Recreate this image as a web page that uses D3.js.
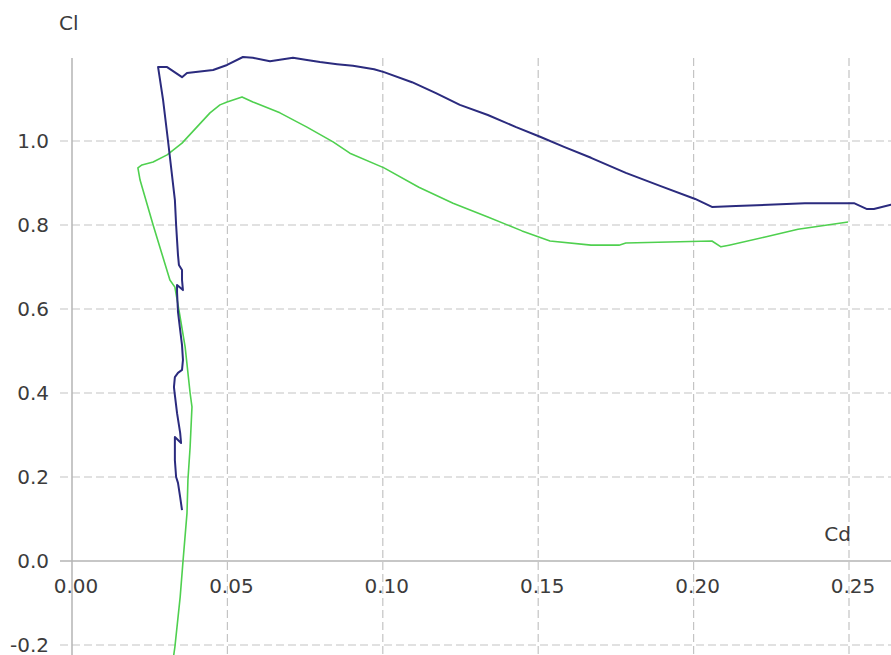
<!DOCTYPE html>
<html>
<head>
<meta charset="utf-8">
<script src="https://cdn.jsdelivr.net/npm/d3@7"></script>
<style>
  html, body { margin: 0; padding: 0; background: #ffffff; }
  svg { display: block; }
  .tick text { font-family: "DejaVu Sans", Verdana, sans-serif; font-size: 20px; fill: #3c3c3c; }
</style>
</head>
<body>
<svg id="chart" width="891" height="655"></svg>
<script>
// Axis ticks
const cdTicks = [0.00, 0.05, 0.10, 0.15, 0.20, 0.25];
const clTicks = [-0.2, 0.0, 0.2, 0.4, 0.6, 0.8, 1.0];

// Polar 1 (navy): drag coefficient and lift coefficient, ordered by incidence
const navyCd = [0.0354, 0.0348, 0.0341, 0.0335, 0.0331, 0.0331, 0.0331, 0.0351, 0.0348, 0.0338,
  0.0331, 0.0328, 0.0331, 0.0341, 0.0354, 0.0357, 0.0354, 0.0348, 0.0341, 0.0338,
  0.0338, 0.0357, 0.0354, 0.0354, 0.0344, 0.0341, 0.0338, 0.0335, 0.0331, 0.0309,
  0.0293, 0.0277, 0.0306, 0.0354, 0.0370, 0.0454, 0.0499, 0.0550, 0.0582, 0.0637,
  0.0711, 0.0756, 0.0798, 0.0853, 0.0904, 0.0972, 0.1004, 0.1094, 0.1171, 0.1248,
  0.1338, 0.1429, 0.1506, 0.1583, 0.1670, 0.1782, 0.1892, 0.2005, 0.2059, 0.2136,
  0.2358, 0.2516, 0.2558, 0.2580, 0.2635, 0.2680];
const navyCl = [0.121, 0.152, 0.186, 0.200, 0.240, 0.276, 0.295, 0.281, 0.305, 0.352,
  0.395, 0.414, 0.438, 0.448, 0.455, 0.479, 0.514, 0.550, 0.593, 0.640,
  0.657, 0.645, 0.669, 0.693, 0.705, 0.729, 0.764, 0.800, 0.860, 1.000,
  1.098, 1.176, 1.176, 1.152, 1.162, 1.169, 1.181, 1.200, 1.198, 1.190,
  1.198, 1.193, 1.188, 1.183, 1.179, 1.171, 1.164, 1.140, 1.114, 1.086,
  1.062, 1.033, 1.010, 0.986, 0.960, 0.924, 0.893, 0.862, 0.843, 0.845,
  0.852, 0.852, 0.838, 0.838, 0.848, 0.850];

// Polar 2 (green)
const greenCd = [0.0325, 0.0331, 0.0348, 0.0357, 0.0370, 0.0373, 0.0380, 0.0386, 0.0380, 0.0364,
  0.0344, 0.0331, 0.0315, 0.0261, 0.0219, 0.0212, 0.0225, 0.0261, 0.0306, 0.0354,
  0.0444, 0.0476, 0.0499, 0.0547, 0.0582, 0.0669, 0.0756, 0.0840, 0.0894, 0.1004,
  0.1116, 0.1226, 0.1338, 0.1448, 0.1538, 0.1670, 0.1760, 0.1782, 0.2059, 0.2088,
  0.2114, 0.2227, 0.2336, 0.2497];
const greenCl = [-0.236, -0.205, -0.086, -0.002, 0.114, 0.193, 0.271, 0.367, 0.400, 0.510,
  0.598, 0.652, 0.669, 0.800, 0.907, 0.936, 0.943, 0.950, 0.967, 0.995,
  1.067, 1.086, 1.093, 1.105, 1.093, 1.067, 1.033, 0.998, 0.971, 0.936,
  0.890, 0.852, 0.819, 0.786, 0.762, 0.752, 0.752, 0.757, 0.762, 0.748,
  0.752, 0.771, 0.790, 0.807];

const W = 891, H = 655;
const plotLeft = 72, plotTop = 58, gridStart = 60;

const x = d3.scaleLinear().domain([0, 0.25]).range([72, 849]);
const y = d3.scaleLinear().domain([0, 1]).range([561, 141]);

const loc = d3.formatLocale({ decimal: ".", thousands: ",", grouping: [3], currency: ["", ""], minus: "-" });
const fmtCd = loc.format(".2f");
const fmtCl = loc.format(".1f");

const svg = d3.select("#chart");

// Dashed grid
const grid = svg.append("g").attr("stroke", "#c4c4c4").attr("stroke-width", 1.2)
  .attr("stroke-dasharray", "8,4").attr("fill", "none");
grid.selectAll("line.h").data(clTicks.filter(v => v !== 0)).join("line")
  .attr("class", "h")
  .attr("x1", gridStart).attr("x2", W)
  .attr("y1", d => y(d)).attr("y2", d => y(d));
grid.selectAll("line.v").data(cdTicks.filter(v => v !== 0)).join("line")
  .attr("class", "v")
  .attr("y1", plotTop).attr("y2", H)
  .attr("x1", d => x(d)).attr("x2", d => x(d));

// Solid axes through the origin
const axes = svg.append("g").attr("stroke", "#b4b4b4").attr("stroke-width", 1.5);
axes.append("line").attr("x1", x(0)).attr("x2", x(0)).attr("y1", plotTop).attr("y2", H);
axes.append("line").attr("x1", gridStart).attr("x2", W).attr("y1", y(0)).attr("y2", y(0));

// Tick labels
const yAxis = svg.append("g").attr("transform", `translate(${gridStart},0)`)
  .call(d3.axisLeft(y).tickValues(clTicks).tickSize(0).tickPadding(11).tickFormat(fmtCl));
yAxis.select(".domain").remove();

const xAxis = svg.append("g").attr("transform", `translate(3.5,${y(0)})`)
  .call(d3.axisBottom(x).tickValues(cdTicks).tickSize(0).tickPadding(18).tickFormat(fmtCd));
xAxis.select(".domain").remove();

// Axis titles
svg.append("text").attr("x", 59).attr("y", 30).text("Cl")
  .attr("font-family", "DejaVu Sans, Verdana, sans-serif").attr("font-size", 20).attr("fill", "#3c3c3c");
svg.append("text").attr("x", 851).attr("y", 541).attr("text-anchor", "end").text("Cd")
  .attr("font-family", "DejaVu Sans, Verdana, sans-serif").attr("font-size", 20).attr("fill", "#3c3c3c");

// Polar curves
const line = d3.line().x(d => x(d[0])).y(d => y(d[1]));
const greenPts = d3.zip(greenCd, greenCl);
const navyPts = d3.zip(navyCd, navyCl);

svg.append("path").datum(greenPts).attr("d", line)
  .attr("fill", "none").attr("stroke", "#4fd04f").attr("stroke-width", 1.6)
  .attr("stroke-linejoin", "round");
svg.append("path").datum(navyPts).attr("d", line)
  .attr("fill", "none").attr("stroke", "#2b2b7e").attr("stroke-width", 2)
  .attr("stroke-linejoin", "round");
</script>
</body>
</html>
